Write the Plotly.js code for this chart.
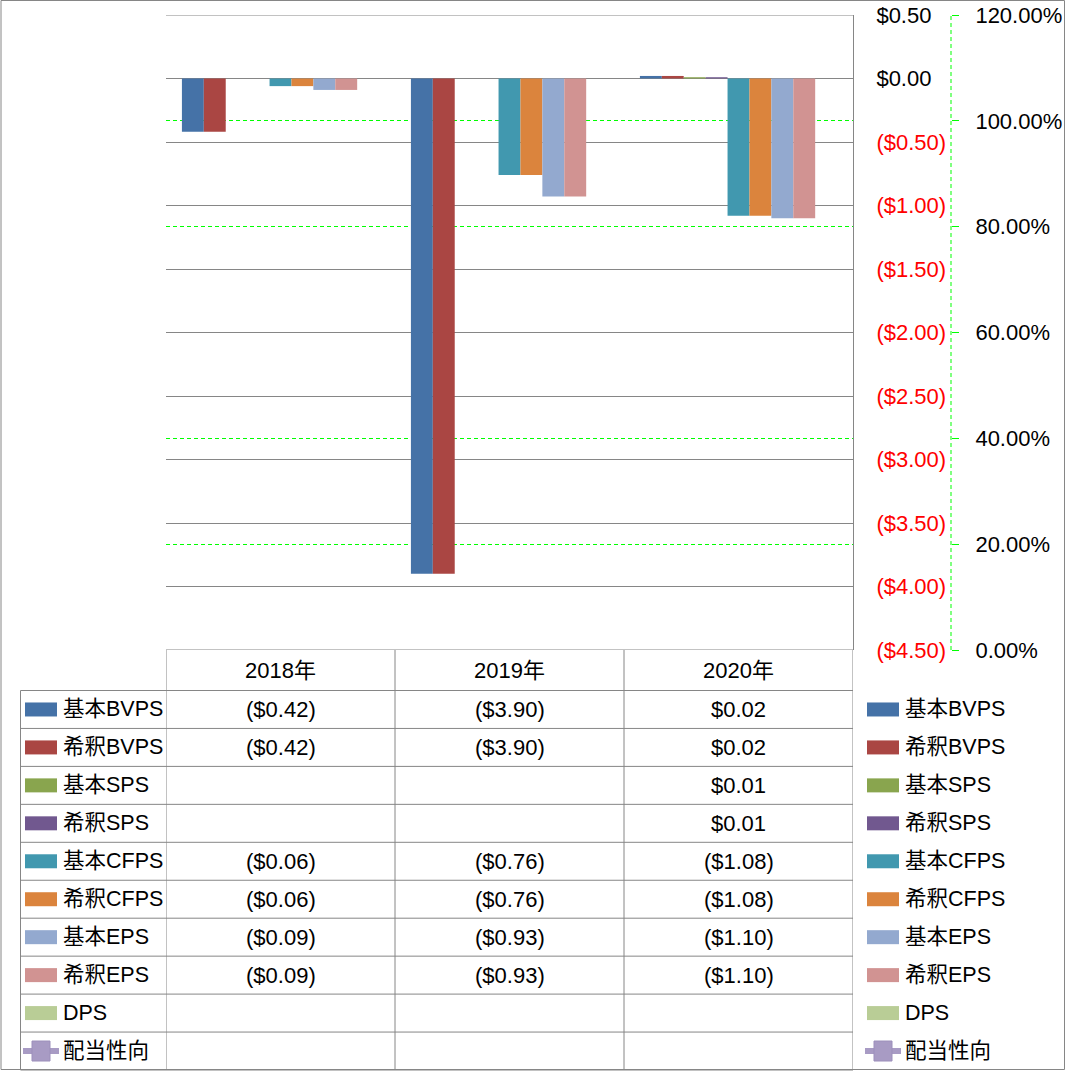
<!DOCTYPE html>
<html>
<head>
<meta charset="utf-8">
<script src="https://cdn.plot.ly/plotly-3.0.1.min.js"></script>
<style>html,body{margin:0;padding:0;background:#fff;}#chart{width:1066px;height:1071px;}</style>
</head>
<body>
<div id="chart"></div>
<script>
// ---- data ----
const categories = ["2018年", "2019年", "2020年"];
const seriesNames = ["基本BVPS", "希釈BVPS", "基本SPS", "希釈SPS", "基本CFPS", "希釈CFPS", "基本EPS", "希釈EPS", "DPS"];
const seriesColors = ["#4572A7", "#AA4643", "#89A54E", "#71588F", "#4198AF", "#DB843D", "#93A9CF", "#D19392", "#B9CD96"];
const basicBVPS   = [-0.42, -3.90, 0.02];
const dilutedBVPS = [-0.42, -3.90, 0.02];
const basicSPS    = [null, null, 0.01];
const dilutedSPS  = [null, null, 0.01];
const basicCFPS   = [-0.06, -0.76, -1.08];
const dilutedCFPS = [-0.06, -0.76, -1.08];
const basicEPS    = [-0.09, -0.93, -1.10];
const dilutedEPS  = [-0.09, -0.93, -1.10];
const dps         = [null, null, null];
const payoutName  = "配当性向";
const payoutColor = "#A89BC4";
const payoutRatio = [null, null, null];
const leftTickVals   = [0.5, 0, -0.5, -1, -1.5, -2, -2.5, -3, -3.5, -4, -4.5];
const leftTickLabels = ["$0.50", "$0.00", "($0.50)", "($1.00)", "($1.50)", "($2.00)", "($2.50)", "($3.00)", "($3.50)", "($4.00)", "($4.50)"];
const rightTickVals   = [0, 0.2, 0.4, 0.6, 0.8, 1.0, 1.2];
const rightTickLabels = ["0.00%", "20.00%", "40.00%", "60.00%", "80.00%", "100.00%", "120.00%"];

const seriesValues = [basicBVPS, dilutedBVPS, basicSPS, dilutedSPS, basicCFPS, dilutedCFPS, basicEPS, dilutedEPS, dps];

// ---- geometry helpers (pixel -> paper) ----
const W = 1066, H = 1071;
const ML = 166, MR = 6, MT = 15, MB = 421;
const PW = W - ML - MR, PH = H - MT - MB;
const px = p => (p - ML) / PW;
const py = p => (H - MB - p) / PH;

const FONT = "'Liberation Sans', 'Noto Sans CJK JP', Arial, sans-serif";
const GRAY = "#868686";
const yRange = [leftTickVals[leftTickVals.length - 1], leftTickVals[0]];
const y2Range = [rightTickVals[0], rightTickVals[rightTickVals.length - 1]];

function fmt(v) {
  if (v === null || v === undefined) return "";
  const s = "$" + Math.abs(v).toFixed(2);
  return v < 0 ? "(" + s + ")" : s;
}

const traces = seriesNames.map((n, i) => ({
  type: "bar", name: n, x: categories, y: seriesValues[i],
  marker: {color: seriesColors[i], line: {width: 0}},
  xaxis: "x", yaxis: "y", hoverinfo: "skip"
}));
traces.push({
  type: "scatter", mode: "lines+markers", name: payoutName, x: categories, y: payoutRatio,
  line: {color: payoutColor, width: 5}, marker: {color: payoutColor, size: 14, symbol: "square"},
  xaxis: "x", yaxis: "y2", hoverinfo: "skip"
});
// empty helper trace so the primary grid overlay axis is drawn above the secondary grid
traces.push({type: "scatter", mode: "none", x: categories, y: [null, null, null],
  xaxis: "x", yaxis: "y3", hoverinfo: "skip", showlegend: false});

const shapes = [];
const annotations = [];

// outer border
shapes.push({type: "rect", xref: "paper", yref: "paper", x0: px(1), x1: px(1064.5), y0: py(1069.5), y1: py(0.5),
  line: {color: GRAY, width: 1}, fillcolor: "rgba(0,0,0,0)", layer: "below"});

// secondary axis line (dashed green)
shapes.push({type: "line", xref: "paper", yref: "paper", x0: px(951), x1: px(951), y0: 0, y1: 1,
  line: {color: "#00FF00", width: 1, dash: "4px,3px"}});

// top and bottom boundary gridlines of the value axis
[yRange[1], yRange[0]].forEach(v => {
  shapes.push({type: "line", xref: "x", yref: "y", x0: -0.5, x1: 2.5, y0: v, y1: v,
    line: {color: GRAY, width: 1}});
});

// data table grid
const tableTop = 650, headerBottom = 690.5, tableBottom = 1070, rowH = (tableBottom - headerBottom) / 10;
const colEdges = [-0.5, 0.5, 1.5, 2.5];
colEdges.forEach(c => {
  shapes.push({type: "line", xref: "x", yref: "paper", x0: c, x1: c, y0: py(tableTop), y1: py(tableBottom),
    line: {color: GRAY, width: 1}});
});
shapes.push({type: "line", xref: "paper", yref: "paper", x0: px(20.5), x1: px(20.5), y0: py(headerBottom), y1: py(tableBottom),
  line: {color: GRAY, width: 1}});
for (let k = 0; k <= 10; k++) {
  const yy = headerBottom + k * rowH;
  shapes.push({type: "line", xref: "paper", yref: "paper", x0: px(20.5), x1: px(853), y0: py(yy), y1: py(yy),
    line: {color: GRAY, width: 1}});
}

// header labels
categories.forEach((c, i) => {
  annotations.push({xref: "x", yref: "paper", x: i, y: py((tableTop + headerBottom) / 2), text: c,
    showarrow: false, font: {family: FONT, size: 22, color: "#000"}, xanchor: "center", yanchor: "middle"});
});

const allNames = seriesNames.concat([payoutName]);
const allColors = seriesColors.concat([payoutColor]);
const allValues = seriesValues.concat([payoutRatio]);

allNames.forEach((n, r) => {
  const cy = headerBottom + (r + 0.5) * rowH;
  allValues[r].forEach((v, i) => {
    const t = r < seriesNames.length ? fmt(v) : "";
    if (t) annotations.push({xref: "x", yref: "paper", x: i, y: py(cy), text: t, showarrow: false,
      font: {family: FONT, size: 22, color: "#000"}, xanchor: "center", yanchor: "middle"});
  });
  [[41, 61], [883, 903]].forEach(([kc, tx]) => {
    if (r < seriesNames.length) {
      shapes.push({type: "rect", xref: "paper", yref: "paper", x0: px(kc - 16), x1: px(kc + 16),
        y0: py(cy + 7), y1: py(cy - 7), fillcolor: allColors[r], line: {width: 0}});
    } else {
      shapes.push({type: "line", xref: "paper", yref: "paper", x0: px(kc - 18), x1: px(kc + 18),
        y0: py(cy), y1: py(cy), line: {color: allColors[r], width: 6}});
      shapes.push({type: "rect", xref: "paper", yref: "paper", x0: px(kc - 9), x1: px(kc + 9),
        y0: py(cy + 10), y1: py(cy - 10), fillcolor: allColors[r], line: {color: "#9C8FBB", width: 1}});
    }
    annotations.push({xref: "paper", yref: "paper", x: px(tx), y: py(cy), text: n, showarrow: false,
      font: {family: FONT, size: 21.5, color: "#000"}, xanchor: "left", yanchor: "middle"});
  });
});

const leftTickText = leftTickLabels.map((t, i) =>
  leftTickVals[i] < 0 ? '<span style="color:#FF0000">' + t + '</span>' : t);

const layout = {
  width: W, height: H,
  margin: {l: ML, r: MR, t: MT, b: MB, pad: 0},
  paper_bgcolor: "#fff", plot_bgcolor: "rgba(0,0,0,0)",
  showlegend: false,
  barmode: "group", bargap: 0.139, bargroupgap: 0,
  font: {family: FONT, size: 22, color: "#000"},
  xaxis: {domain: [0, px(853)], range: [-0.5, 2.5], type: "category",
    showgrid: false, showline: false, zeroline: false, showticklabels: false, ticks: ""},
  yaxis: {side: "right", anchor: "x", range: yRange, tickvals: leftTickVals, ticktext: leftTickText,
    showgrid: true, gridcolor: GRAY, gridwidth: 1, zeroline: false,
    showline: true, linecolor: GRAY, linewidth: 1,
    ticks: "outside", ticklen: 18, tickcolor: "rgba(0,0,0,0)",
    tickfont: {family: FONT, size: 22, color: "#000"}},
  yaxis2: {overlaying: "y", side: "right", anchor: "free", position: px(951), range: y2Range,
    tickvals: rightTickVals, ticktext: rightTickLabels,
    showgrid: true, gridcolor: "#00FF00", gridwidth: 1, griddash: "4px,3px", zeroline: false,
    showline: false, ticks: "outside", ticklen: 7, tickcolor: "#00FF00", ticklabelstandoff: 12,
    tickfont: {family: FONT, size: 22, color: "#000"}},
  yaxis3: {overlaying: "y", side: "right", anchor: "x", range: yRange, tickvals: leftTickVals,
    showgrid: true, gridcolor: GRAY, gridwidth: 1, zeroline: false, showline: false,
    showticklabels: false, ticks: ""},
  shapes: shapes,
  annotations: annotations
};

Plotly.newPlot("chart", traces, layout, {displayModeBar: false, staticPlot: true});
</script>
</body>
</html>
